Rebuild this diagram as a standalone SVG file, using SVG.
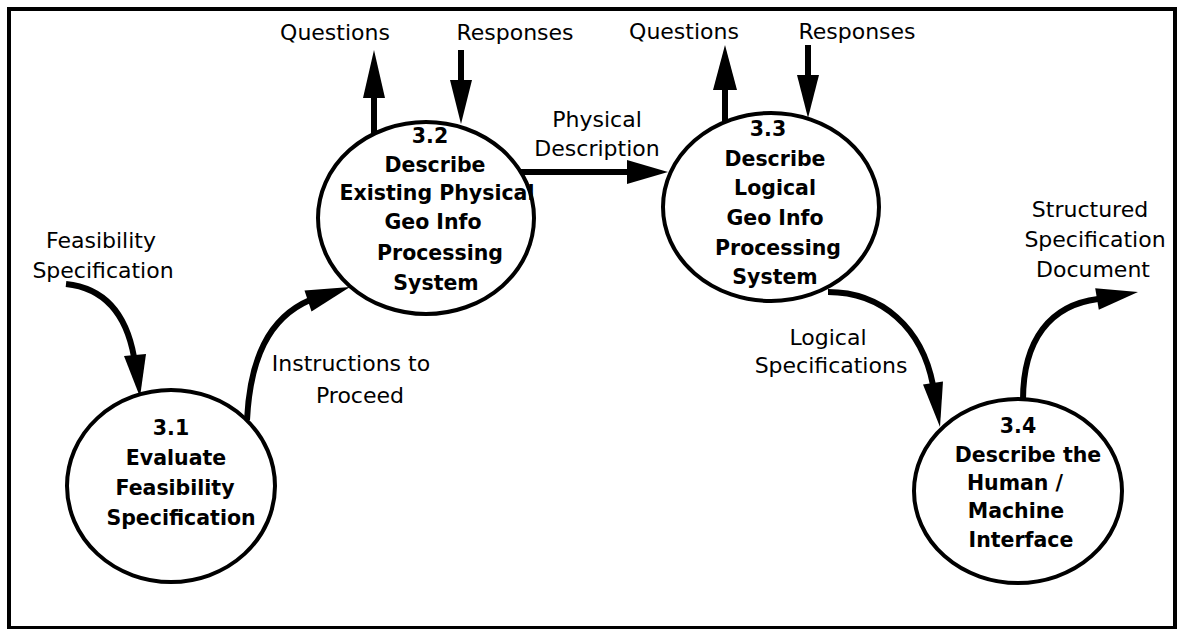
<svg xmlns="http://www.w3.org/2000/svg" width="1187" height="629" viewBox="0 0 1187 629">
<style>
.lbl{font-family:"DejaVu Sans","Liberation Sans",sans-serif;font-size:22px;fill:#000;text-anchor:middle}
.nt{font-family:"DejaVu Sans","Liberation Sans",sans-serif;font-size:20.5px;font-weight:bold;fill:#000;text-anchor:middle}
.proc{fill:#fff;stroke:#000;stroke-width:4}
.flow{fill:none;stroke:#000;stroke-width:6}
.head{fill:#000;stroke:none}
</style>
<rect x="0" y="0" width="1187" height="629" fill="#fff"/>
<rect x="9" y="9" width="1166" height="619" fill="none" stroke="#000" stroke-width="4"/>

<g id="connectors">
  <!-- Feasibility Specification -> 3.1 -->
  <path class="flow" d="M66 284 Q122 290 134 357"/>
  <polygon class="head" points="124,356 146,354 140,397"/>
  <!-- 3.1 -> 3.2 Instructions to Proceed -->
  <path class="flow" d="M247 420 C250 360 268 318 310 300"/>
  <polygon class="head" points="304.5,290.6 311.5,311.4 350,287"/>
  <!-- 3.2 Questions -->
  <line class="flow" x1="374" y1="133" x2="374" y2="94"/>
  <polygon class="head" points="363,98 385,98 374,50"/>
  <!-- 3.2 Responses -->
  <line class="flow" x1="461" y1="50" x2="461" y2="84"/>
  <polygon class="head" points="450,80 472,80 461,124"/>
  <!-- Physical Description -->
  <line class="flow" x1="521" y1="172" x2="630" y2="172"/>
  <polygon class="head" points="627,160 627,184 668,172"/>
  <!-- 3.3 Questions -->
  <line class="flow" x1="725" y1="121" x2="725" y2="86"/>
  <polygon class="head" points="713,90 737,90 725,45"/>
  <!-- 3.3 Responses -->
  <line class="flow" x1="808" y1="45" x2="808" y2="79"/>
  <polygon class="head" points="797,75 819,75 808,118"/>
  <!-- Logical Specifications -->
  <path class="flow" d="M828 292 C882 292 922 328 933 385"/>
  <polygon class="head" points="923,384.6 943,381.4 940,427"/>
  <!-- Structured Specification Document -->
  <path class="flow" d="M1023 400 C1023 340 1050 305 1098 299"/>
  <polygon class="head" points="1095.2,288.2 1098.8,309.8 1138,292"/>
</g>

<g id="labels">
  <text class="lbl" x="335" y="40">Questions</text>
  <text class="lbl" x="515" y="40">Responses</text>
  <text class="lbl" x="684" y="39">Questions</text>
  <text class="lbl" x="857" y="39">Responses</text>
  <text class="lbl" x="597" y="127">Physical</text>
  <text class="lbl" x="597" y="156">Description</text>
  <text class="lbl" x="101" y="248">Feasibility</text>
  <text class="lbl" x="103" y="278">Specification</text>
  <text class="lbl" x="351" y="371">Instructions to</text>
  <text class="lbl" x="360" y="403">Proceed</text>
  <text class="lbl" x="828" y="345">Logical</text>
  <text class="lbl" x="831" y="373">Specifications</text>
  <text class="lbl" x="1090" y="217">Structured</text>
  <text class="lbl" x="1095" y="247">Specification</text>
  <text class="lbl" x="1093" y="277">Document</text>
</g>

<g id="node-3.1">
  <ellipse class="proc" cx="171" cy="486" rx="104" ry="96"/>
  <text class="nt" x="171" y="435">3.1</text>
  <text class="nt" x="176" y="465">Evaluate</text>
  <text class="nt" x="175" y="495">Feasibility</text>
  <text class="nt" x="181" y="525">Specification</text>
</g>

<g id="node-3.2">
  <ellipse class="proc" cx="426" cy="218" rx="108" ry="96"/>
  <text class="nt" x="430" y="143">3.2</text>
  <text class="nt" x="435" y="172">Describe</text>
  <text class="nt" x="437" y="200">Existing Physical</text>
  <text class="nt" x="433" y="229">Geo Info</text>
  <text class="nt" x="440" y="260">Processing</text>
  <text class="nt" x="436" y="290">System</text>
</g>

<g id="node-3.3">
  <ellipse class="proc" cx="771" cy="207" rx="108" ry="94"/>
  <text class="nt" x="768" y="136">3.3</text>
  <text class="nt" x="775" y="166">Describe</text>
  <text class="nt" x="775" y="195">Logical</text>
  <text class="nt" x="775" y="225">Geo Info</text>
  <text class="nt" x="778" y="255">Processing</text>
  <text class="nt" x="775" y="284">System</text>
</g>

<g id="node-3.4">
  <ellipse class="proc" cx="1018" cy="491" rx="104" ry="92"/>
  <text class="nt" x="1018" y="433">3.4</text>
  <text class="nt" x="1028" y="462">Describe the</text>
  <text class="nt" x="1015" y="490">Human /</text>
  <text class="nt" x="1016" y="518">Machine</text>
  <text class="nt" x="1021" y="547">Interface</text>
</g>
</svg>
